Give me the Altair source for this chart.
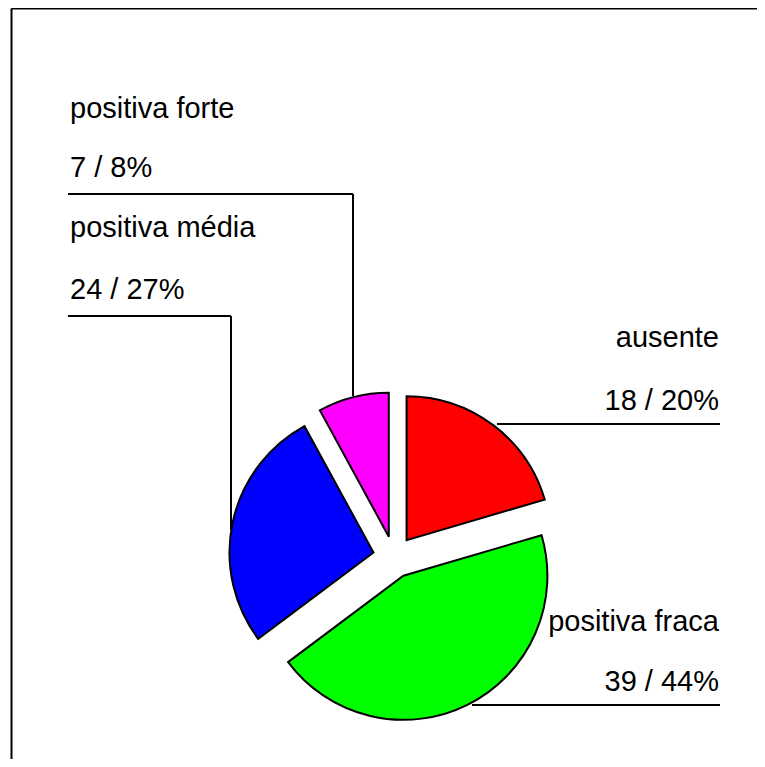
import altair as alt
import pandas as pd

# ---- data ----
categories = ["ausente", "positiva fraca", "positiva média", "positiva forte"]
counts = [18, 39, 24, 7]
percents = ["20%", "44%", "27%", "8%"]
colors = ["#FF0000", "#00FF00", "#0000FF", "#FF00FF"]

# ---- layout (pixels) ----
W, H = 749, 751
CX, CY = 386, 549
R = 144
EXPLODE = 21
FONT = "Liberation Sans"
FS = 29

# label anchors per category: (x, baseline of name, baseline of value, align)
label_x = [711, 711, 62, 62]
label_y1 = [339, 623, 229, 110]
label_y2 = [402, 683, 291, 169]
label_align = ["right", "right", "left", "left"]

# leader lines (segments)
seg_x = [489, 464, 60, 223, 60, 345]
seg_x2 = [712, 712, 223, 223, 345, 345]
seg_y = [416, 697, 308, 308, 186, 186]
seg_y2 = [416, 697, 308, 522, 186, 388]

pie_df = pd.DataFrame({"category": categories, "count": counts, "order": list(range(len(categories)))})

pie = (
    alt.Chart(pie_df)
    .transform_window(cum="sum(count)", sort=[alt.SortField("order")], frame=[None, 0])
    .transform_joinaggregate(total="sum(count)")
    .transform_calculate(
        t0="2*PI*(datum.cum - datum.count)/datum.total",
        t1="2*PI*datum.cum/datum.total",
    )
    .transform_calculate(mid="(datum.t0 + datum.t1)/2")
    .transform_calculate(
        cx=f"{CX} + {EXPLODE}*sin(datum.mid)",
        cy=f"{CY} - {EXPLODE}*cos(datum.mid)",
    )
    .mark_arc(radius=R, stroke="black", strokeWidth=2)
    .encode(
        theta=alt.Theta("t0:Q", scale=None, stack=None),
        theta2="t1:Q",
        x=alt.X("cx:Q", scale=None, axis=None),
        y=alt.Y("cy:Q", scale=None, axis=None),
        color=alt.Color("category:N", scale=alt.Scale(domain=categories, range=colors), legend=None),
    )
)

rows = []
for c, n, p, x, y1, y2, a in zip(categories, counts, percents, label_x, label_y1, label_y2, label_align):
    rows.append({"text": c, "x": x, "y": y1, "align": a})
    rows.append({"text": f"{n} / {p}", "x": x, "y": y2, "align": a})
text_df = pd.DataFrame(rows)

text_left = (
    alt.Chart(text_df[text_df["align"] == "left"])
    .mark_text(align="left", baseline="alphabetic", font=FONT, fontSize=FS, color="black")
    .encode(x=alt.X("x:Q", scale=None, axis=None), y=alt.Y("y:Q", scale=None, axis=None), text="text:N")
)
text_right = (
    alt.Chart(text_df[text_df["align"] == "right"])
    .mark_text(align="right", baseline="alphabetic", font=FONT, fontSize=FS, color="black")
    .encode(x=alt.X("x:Q", scale=None, axis=None), y=alt.Y("y:Q", scale=None, axis=None), text="text:N")
)

seg_df = pd.DataFrame({"x": seg_x, "x2": seg_x2, "y": seg_y, "y2": seg_y2})
leaders = (
    alt.Chart(seg_df)
    .mark_rule(color="black", strokeWidth=2)
    .encode(
        x=alt.X("x:Q", scale=None, axis=None),
        x2="x2:Q",
        y=alt.Y("y:Q", scale=None, axis=None),
        y2="y2:Q",
    )
)

frame_df = pd.DataFrame({"x": [3.5, 3.5], "x2": [3.5, W], "y": [0.5, 0.5], "y2": [H, 0.5]})
frame = (
    alt.Chart(frame_df)
    .mark_rule(color="black", strokeWidth=2)
    .encode(
        x=alt.X("x:Q", scale=None, axis=None),
        x2="x2:Q",
        y=alt.Y("y:Q", scale=None, axis=None),
        y2="y2:Q",
    )
)

chart = (
    alt.layer(frame, leaders, pie, text_left, text_right)
    .properties(width=W, height=H, padding=0, autosize="none", background="white")
    .configure_view(stroke=None)
)

chart.save("out.html", embed_options={"renderer": "svg", "actions": False})
